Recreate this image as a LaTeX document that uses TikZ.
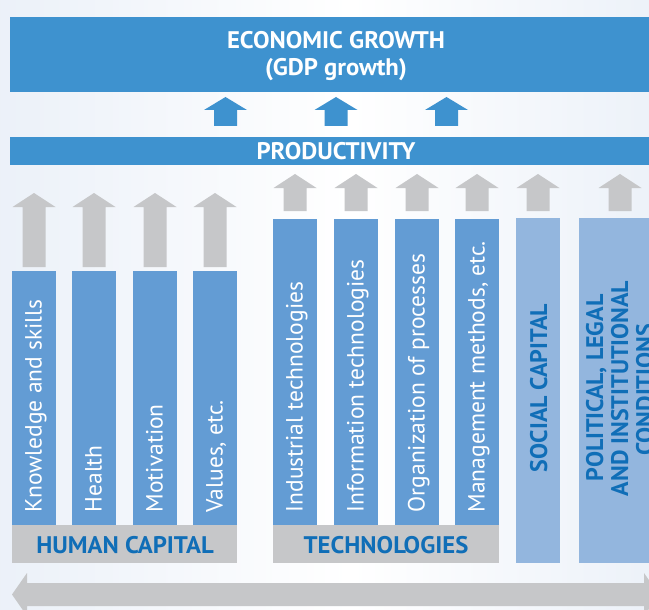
\documentclass[tikz,border=0pt]{standalone}
\usepackage{fontspec}
\setmainfont{PT Sans}
\newfontfamily\headfont[FakeStretch=1.03]{PT Sans}

\definecolor{bgblue}{RGB}{219,229,243}
\definecolor{topblue}{RGB}{62,146,207}
\definecolor{barblue}{RGB}{99,156,212}
\definecolor{lightbar}{RGB}{147,182,222}
\definecolor{arrowgray}{RGB}{198,199,201}
\definecolor{labelblue}{RGB}{16,110,183}

% pale wash, white towards the middle
\pgfdeclarehorizontalshading{wash}{100bp}{color(0bp)=(bgblue);
  color(30bp)=(bgblue!45!white); color(52bp)=(white);
  color(72bp)=(bgblue!45!white); color(100bp)=(bgblue)}

% block arrow pointing up: centre x, tip y, head base y, shaft end y,
% head half width, shaft half width, fill colour
\newcommand{\blockup}[7]{%
  \fill[#7] (#1,#2) -- (#1+#5,#3) -- (#1+#6,#3) -- (#1+#6,#4)
    -- (#1-#6,#4) -- (#1-#6,#3) -- (#1-#5,#3) -- cycle;}

\tikzset{
  band/.style={fill=topblue, inner sep=0pt, anchor=north west},
  pillar/.style={fill=barblue, inner sep=0pt, minimum width=44pt, anchor=north west},
  pillarlight/.style={fill=lightbar, inner sep=0pt, anchor=north west},
  basebox/.style={fill=arrowgray, inner sep=0pt, anchor=north west, minimum height=38pt},
  pillartext/.style={rotate=90, anchor=base west, text=white, inner sep=0pt,
    font=\fontsize{23.5}{26}\selectfont},
  headtext/.style={text=white, inner sep=0pt, anchor=base,
    font=\headfont\bfseries\fontsize{24}{27}\selectfont},
  labeltext/.style={text=labelblue, inner sep=0pt, anchor=base,
    font=\headfont\bfseries\fontsize{24}{25}\selectfont},
  sidelabel/.style={text=labelblue, inner sep=0pt, anchor=base, rotate=90,
    font=\bfseries\fontsize{24}{25}\selectfont},
}

\begin{document}
\begin{tikzpicture}[x=1pt,y=-1pt]
\useasboundingbox (0,0) rectangle (649,610);
\begin{scope}
\clip (0,0) rectangle (649,610);
% background wash
\shade[shading=wash] (0,0) rectangle (649,610);

% top bands
\node[band, minimum width=650pt, minimum height=75pt] (growth) at (10,17) {};
\node[headtext] (growthtxt) at (336,49) {ECONOMIC GROWTH};
\node[headtext] (gdptxt) at (336,76) {(GDP growth)};
\node[band, minimum width=650pt, minimum height=28pt] (prod) at (10,137) {};
\node[headtext] (prodtxt) at (336,159.5) {PRODUCTIVITY};

% blue arrows from productivity to growth
\blockup{225.5}{97}{110}{126}{21.5}{11.5}{topblue}
\blockup{336}{97}{110}{126}{21.5}{11.5}{topblue}
\blockup{446.5}{97}{110}{126}{21.5}{11.5}{topblue}

% human capital pillars
\node[pillar, minimum height=254pt] (hc1) at (12,271) {};
\node[pillar, minimum height=254pt] (hc2) at (72,271) {};
\node[pillar, minimum height=254pt] (hc3) at (133,271) {};
\node[pillar, minimum height=254pt] (hc4) at (193,271) {};
\node[pillartext] at (41.7,512.5) {Knowledge and skills};
\node[pillartext] at (101.7,512.5) {Health};
\node[pillartext] at (162.7,512.5) {Motivation};
\node[pillartext] at (222.7,512.5) {Values, etc.};
\foreach \cx in {34,94,155,215}
  \blockup{\cx}{193}{207}{267}{21.5}{11.5}{arrowgray};
\node[basebox, minimum width=225pt] (hc) at (12,525) {};
\node[labeltext] (hctxt) at (125,553) {HUMAN CAPITAL};

% technology pillars
\node[pillar, minimum height=306pt] (t1) at (273,219) {};
\node[pillar, minimum height=306pt] (t2) at (334,219) {};
\node[pillar, minimum height=306pt] (t3) at (395,219) {};
\node[pillar, minimum height=306pt] (t4) at (455,219) {};
\node[pillartext] at (302.7,512.5) {Industrial technologies};
\node[pillartext] at (363.7,512.5) {Information technologies};
\node[pillartext] at (424.7,512.5) {Organization of processes};
\node[pillartext] at (484.7,512.5) {Management methods, etc.};
\node[basebox, minimum width=226pt] (tech) at (273,525) {};
\node[labeltext] (techtxt) at (386,553) {TECHNOLOGIES};

% social capital and institutions
\node[pillarlight, minimum width=44pt, minimum height=345pt] (soc) at (516,218) {};
\node[sidelabel] (soctxt) at (547,388) {SOCIAL CAPITAL};
\node[pillarlight, minimum width=82pt, minimum height=345pt] (pol) at (579,218) {};
\node[sidelabel] (pol1) at (603,388) {POLITICAL, LEGAL};
\node[sidelabel] (pol2) at (628,388.5) {AND INSTITUTIONAL};
\node[sidelabel] (pol3) at (653,390) {CONDITIONS};

\foreach \cx in {295,356,417,477,538,620}
  \blockup{\cx}{174}{188}{211}{21.5}{11.5}{arrowgray};

% double-headed arrow along the foot
\fill[arrowgray] (12,594.5) -- (27,573) -- (27,583) -- (644,583) -- (644,573)
  -- (659,594.5) -- (644,616) -- (644,606) -- (27,606) -- (27,616) -- cycle;
\end{scope}
\end{tikzpicture}
\end{document}
